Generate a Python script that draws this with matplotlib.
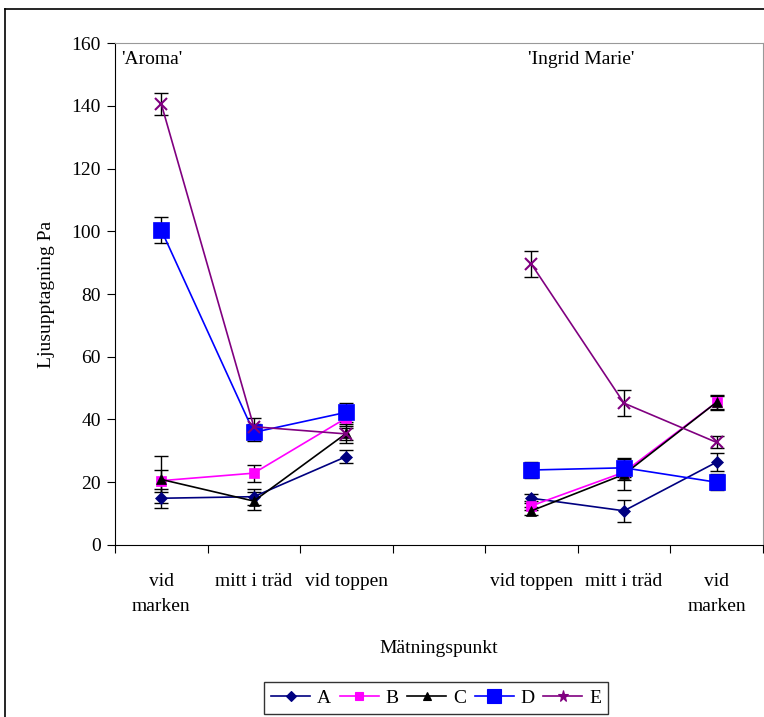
import numpy as np
from matplotlib import pyplot as plt
from matplotlib.lines import Line2D

plt.rcParams['font.family'] = ['Liberation Serif', 'DejaVu Serif']
plt.rcParams['font.size'] = 14

# kategorier: 7 platser, den fjärde är tom (skiljer sorterna)
kategorier = ['vid\nmarken', 'mitt i träd', 'vid toppen', '',
              'vid toppen', 'mitt i träd', 'vid\nmarken']
serier = ['A', 'B', 'C', 'D', 'E']
nan = np.nan

A = [14.9, 15.4, 28.2, nan, 14.9, 10.9, 26.4]
B = [20.5, 22.9, 40.5, nan, 12.5, 23.2, 45.5]
C = [20.9, 14.0, 35.6, nan, 10.9, 22.5, 45.5]
D = [100.4, 35.9, 42.3, nan, 23.9, 24.6, 20.0]
E = [140.6, 37.7, 35.4, nan, 89.5, 45.2, 32.7]

A_err = [3.1, 2.5, 2.0, nan, 1.5, 3.6, 2.9]
B_err = [3.5, 2.7, 2.5, nan, 1.5, 2.5, 2.0]
C_err = [7.6, 3.0, 3.0, nan, 1.2, 4.9, 2.4]
D_err = [4.0, 2.7, 3.0, nan, 2.7, 3.0, 2.5]
E_err = [3.5, 2.7, 2.0, nan, 4.2, 4.1, 1.9]

varden = [A, B, C, D, E]
fel = [A_err, B_err, C_err, D_err, E_err]
farger = ['#000080', '#FF00FF', '#000000', '#0000FF', '#800080']
markorer = ['D', 's', '^', 's', 'x']
storlek = [6, 7, 7, 11, 9]

fig = plt.figure(figsize=(7.64, 7.17), dpi=100)
ax = fig.add_axes([0.1505, 0.2399, 0.848, 0.7001])

x = np.arange(len(kategorier))
for i in range(len(serier)):
    ax.errorbar(x, varden[i], yerr=fel[i], fmt='none', ecolor='black',
                elinewidth=1, capsize=5, capthick=1, zorder=2)
for i in range(len(serier)):
    ax.plot(x, varden[i], color=farger[i], marker=markorer[i], ms=storlek[i],
            mew=1.5 if markorer[i] == 'x' else 0.5, lw=1.2, label=serier[i], zorder=3)

ax.set_xlim(-0.5, 6.5)
ax.set_ylim(0, 160)
ax.set_yticks(range(0, 161, 20))
ax.set_xticks(np.arange(-0.5, 6.6, 1))
ax.set_xticklabels([])
ax.set_xticks(x, minor=True)
ax.set_xticklabels(kategorier, minor=True)
for lbl in ax.get_xticklabels(minor=True):
    lbl.set_linespacing(1.65)
ax.tick_params(axis='x', which='minor', length=0, pad=20)
ax.tick_params(axis='x', which='major', direction='out', length=6)
ax.tick_params(axis='y', direction='out', length=6, pad=4)
for s in ['top', 'right']:
    ax.spines[s].set_color('#999999')

ax.set_ylabel('Ljusupptagning Pa', labelpad=12)
ax.set_xlabel('Mätningspunkt', labelpad=18)
ax.text(0.01, 0.985, "'Aroma'", transform=ax.transAxes, va='top', ha='left')
ax.text(0.72, 0.985, "'Ingrid Marie'", transform=ax.transAxes, va='top', ha='center')

# legend
handles = [Line2D([], [], color=farger[i], marker='*' if markorer[i] == 'x' else markorer[i],
                  ms=storlek[i] * 0.9, lw=1.2, mew=0.8) for i in range(len(serier))]
leg = fig.legend(handles, serier, loc='center', bbox_to_anchor=(436 / 764, 1 - 698 / 717),
                 ncol=5, frameon=True, fancybox=False, edgecolor='black',
                 handlelength=2.0, columnspacing=0.45, handletextpad=0.35, borderpad=0.35)
leg.get_frame().set_linewidth(1)

# ram runt diagrammet
fig.add_artist(Line2D([5 / 764, 5 / 764], [0, 1 - 9 / 717], color='black', lw=1.2,
                      transform=fig.transFigure))
fig.add_artist(Line2D([5 / 764, 1], [1 - 9 / 717, 1 - 9 / 717], color='black', lw=1.2,
                      transform=fig.transFigure))

plt.savefig('out.png', dpi=100)
